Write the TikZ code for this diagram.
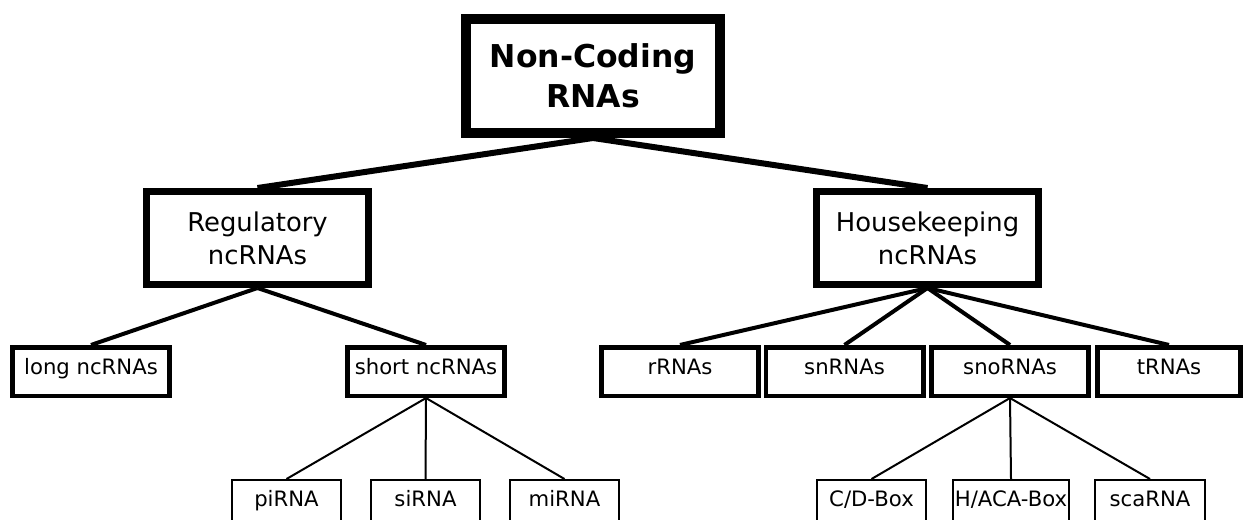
\documentclass[tikz,border=0pt]{standalone}
\usepackage{fontspec}
\setmainfont{DejaVu Sans}
\begin{document}
\begin{tikzpicture}[x=0.75pt,y=-0.75pt,
  rootbox/.style={draw, line width=7.5pt, inner sep=0pt, align=center,
    minimum width=190.5pt, minimum height=85.5pt,
    font=\fontsize{23.6}{30}\selectfont\bfseries},
  groupbox/.style={draw, line width=5.25pt, inner sep=0pt, align=center,
    minimum width=166.5pt, minimum height=69.75pt,
    font=\fontsize{19.4}{24.75}\selectfont},
  classbox/.style={draw, line width=3.4pt, inner sep=0pt,
    minimum width=118.1pt, minimum height=36.4pt,
    text height=0.75em, text depth=0.25em,
    font=\fontsize{15.9}{19}\selectfont},
  leafbox/.style={draw, line width=1.5pt, inner sep=0pt,
    minimum width=81.75pt, minimum height=34.5pt,
    text height=0.75em, text depth=0.25em,
    font=\fontsize{15.9}{19}\selectfont},
  rootlink/.style={line width=4.5pt},
  grouplink/.style={line width=3pt},
  leaflink/.style={line width=1.5pt}]
\useasboundingbox (0,0) rectangle (1244,520);

% root
\node[rootbox] (ncrna) at (593,76) {Non-Coding\\RNAs};

% two main groups
\node[groupbox] (reg) at (257.5,238) {Regulatory\\ncRNAs};
\node[groupbox] (house) at (927.5,238) {Housekeeping\\ncRNAs};

% regulatory classes
\node[classbox] (long) at (91,371.5) {long ncRNAs};
\node[classbox] (short) at (426,371.5) {short ncRNAs};

% housekeeping classes
\node[classbox] (rrna) at (680,371.5) {rRNAs};
\node[classbox] (snrna) at (844.5,371.5) {snRNAs};
\node[classbox] (snorna) at (1010,371.5) {snoRNAs};
\node[classbox, minimum width=107.6pt] (trna) at (1169,371.5) {tRNAs};

% short ncRNA types
\node[leafbox] (pirna) at (286.5,503) {piRNA};
\node[leafbox] (sirna) at (425.5,503) {siRNA};
\node[leafbox] (mirna) at (564.5,503) {miRNA};

% snoRNA types
\node[leafbox] (cdbox) at (871.5,503) {C/D-Box};
\node[leafbox, minimum width=87pt] (hacabox) at (1011,503) {H/ACA-Box};
\node[leafbox, minimum width=82.5pt] (scarna) at (1150,503) {scaRNA};

% connectors
\draw[rootlink] (ncrna.south) -- (reg.north);
\draw[rootlink] (ncrna.south) -- (house.north);

\draw[grouplink] (reg.south) -- (long.north);
\draw[grouplink] (reg.south) -- (short.north);
\draw[grouplink] (house.south) -- (rrna.north);
\draw[grouplink] (house.south) -- (snrna.north);
\draw[grouplink] (house.south) -- (snorna.north);
\draw[grouplink] (house.south) -- (trna.north);

\draw[leaflink] (short.south) -- (pirna.north);
\draw[leaflink] (short.south) -- (sirna.north);
\draw[leaflink] (short.south) -- (mirna.north);
\draw[leaflink] (snorna.south) -- (cdbox.north);
\draw[leaflink] (snorna.south) -- (hacabox.north);
\draw[leaflink] (snorna.south) -- (scarna.north);
\end{tikzpicture}
\end{document}
